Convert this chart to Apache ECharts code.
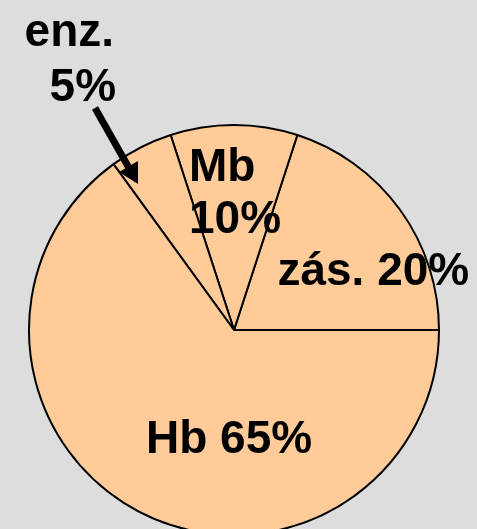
<!DOCTYPE html>
<html>
<head>
<meta charset="utf-8">
<script src="https://cdn.jsdelivr.net/npm/echarts@6/dist/echarts.min.js"></script>
<style>
  html, body { margin: 0; padding: 0; background: #dddddd; }
  #chart { width: 477px; height: 529px; }
</style>
</head>
<body>
<div id="chart"></div>
<script>
// podíl železa v těle (%)
const names = ['zás.', 'Mb', 'enz.', 'Hb']
const values = [20, 10, 5, 65]

// posun popisků vůči výchozí pozici "inside"
const labelShift = [
  { dx: 54, dy: 4 },
  { dx: -3, dy: -30 },
  { dx: -103, dy: -175 },
  { dx: 43, dy: 16 },
]

const chart = echarts.init(document.getElementById('chart'), null, { renderer: 'canvas' })

const font = { fontFamily: 'Liberation Sans, Arial, sans-serif', fontWeight: 'bold', fontSize: 46, color: '#000' }

chart.setOption({
  backgroundColor: '#dddddd',
  animation: false,
  series: [{
    type: 'pie',
    center: [234, 330],
    radius: 205,
    startAngle: 0,
    clockwise: false,
    silent: true,
    itemStyle: { color: '#ffcc99', borderColor: '#000', borderWidth: 2 },
    label: {
      position: 'inside',
      ...font,
      lineHeight: 54,
      formatter: p => {
        if (p.name === 'Hb' || p.name === 'zás.') return `${p.name} ${p.percent}%`
        if (p.name === 'Mb') return `{l|${p.name}}\n{l|${p.percent}%}`
        return `{a|${p.name}}\n{b|${p.percent}%}`
      },
      rich: {
        l: { ...font, lineHeight: 52, align: 'left', width: 84 },
        a: { ...font, lineHeight: 55, align: 'left', width: 92 },
        b: { ...font, lineHeight: 55, align: 'left', width: 92, padding: [0, 0, 0, 25] },
      },
    },
    labelLine: { show: false },
    labelLayout: p => labelShift[p.dataIndex],
    data: names.map((n, i) => ({ name: n, value: values[i] })),
  }],
  graphic: [
    {
      type: 'line',
      z: 100,
      shape: { x1: 95, y1: 108, x2: 129, y2: 168 },
      style: { stroke: '#000', lineWidth: 7 },
    },
    {
      type: 'polygon',
      z: 100,
      shape: { points: [[138, 184], [119, 172], [138, 161]] },
      style: { fill: '#000' },
    },
  ],
})
</script>
</body>
</html>
